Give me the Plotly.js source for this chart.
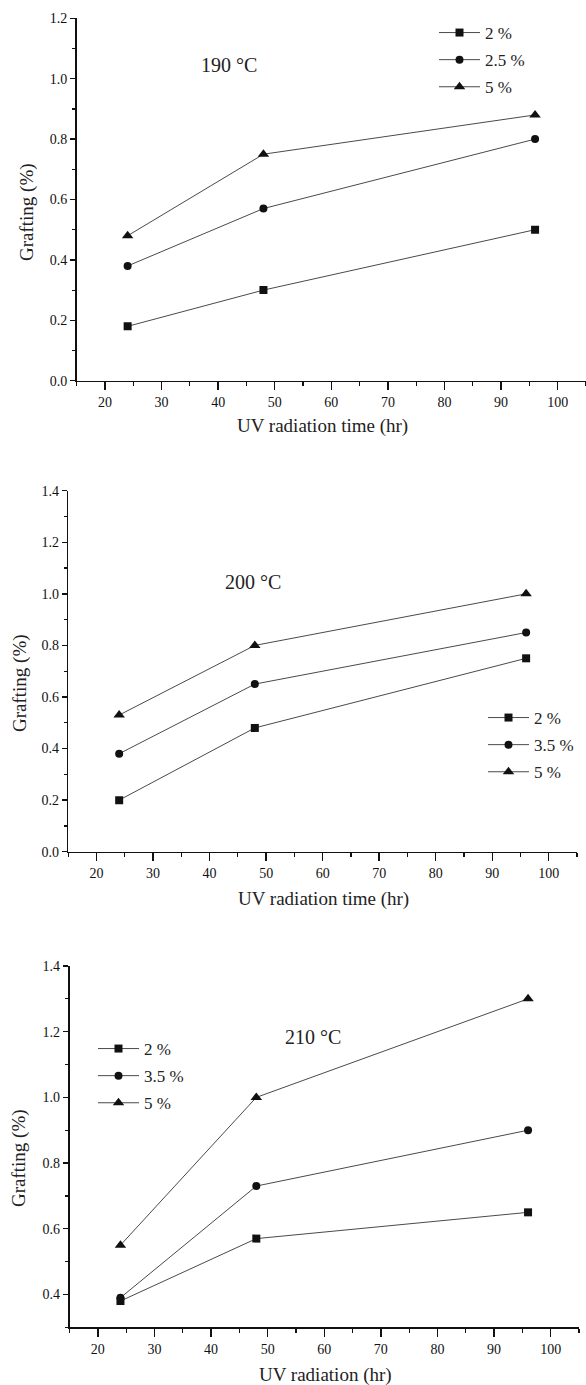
<!DOCTYPE html>
<html>
<head>
<meta charset="utf-8">
<script src="https://cdn.plot.ly/plotly-3.0.1.min.js"></script>
<style>html,body{margin:0;padding:0;background:#fff;}#chart{width:586px;height:1385px;}</style>
</head>
<body>
<div id="chart"></div>
<script>
// ---- data ----
const hours = [24, 48, 96];

const panel1Title = "190 °C";
const panel1Names = ["2 %", "2.5 %", "5 %"];
const panel1_2 = [0.18, 0.30, 0.50];
const panel1_25 = [0.38, 0.57, 0.80];
const panel1_5 = [0.48, 0.75, 0.88];

const panel2Title = "200 °C";
const panel2Names = ["2 %", "3.5 %", "5 %"];
const panel2_2 = [0.20, 0.48, 0.75];
const panel2_35 = [0.38, 0.65, 0.85];
const panel2_5 = [0.53, 0.80, 1.00];

const panel3Title = "210 °C";
const panel3Names = ["2 %", "3.5 %", "5 %"];
const panel3_2 = [0.38, 0.57, 0.65];
const panel3_35 = [0.39, 0.73, 0.90];
const panel3_5 = [0.55, 1.00, 1.30];

const xTitle12 = "UV radiation time (hr)";
const xTitle3 = "UV radiation (hr)";
const yTitle = "Grafting (%)";

// ---- styling ----
const W = 586, H = 1385;
const px = v => v / W;
const py = v => 1 - v / H;
const FONT = "Liberation Serif, Times New Roman, serif";
const symbols = ["square", "circle", "triangle-up"];
const sizes = [8, 8, 10];

function mk(xs, ys, name, i, xa, ya, leg) {
  return {
    x: xs, y: ys, name: name, type: "scatter", mode: "lines+markers",
    xaxis: xa, yaxis: ya, legend: leg, legendgroup: leg + "_" + i,
    line: {color: "#4a4a4a", width: 1},
    marker: {symbol: symbols[i], size: sizes[i], color: "#111"}
  };
}

const data = [
  mk(hours, panel1_2, panel1Names[0], 0, "x", "y", "legend"),
  mk(hours, panel1_25, panel1Names[1], 1, "x", "y", "legend"),
  mk(hours, panel1_5, panel1Names[2], 2, "x", "y", "legend"),
  mk(hours, panel2_2, panel2Names[0], 0, "x2", "y2", "legend2"),
  mk(hours, panel2_35, panel2Names[1], 1, "x2", "y2", "legend2"),
  mk(hours, panel2_5, panel2Names[2], 2, "x2", "y2", "legend2"),
  mk(hours, panel3_2, panel3Names[0], 0, "x3", "y3", "legend3"),
  mk(hours, panel3_35, panel3Names[1], 1, "x3", "y3", "legend3"),
  mk(hours, panel3_5, panel3Names[2], 2, "x3", "y3", "legend3")
];

function xax(d0, d1, anchor) {
  return {
    domain: [d0, d1], anchor: anchor, range: [15, 105], tick0: 0, dtick: 10,
    showline: true, linecolor: "#111", linewidth: 1.6, mirror: false,
    ticks: "outside", ticklen: 8, tickwidth: 1.4, tickcolor: "#111",
    minor: {dtick: 5, ticks: "outside", ticklen: 4, tickwidth: 1.2, tickcolor: "#111", showgrid: false},
    showgrid: false, zeroline: false, fixedrange: true,
    tickfont: {family: FONT, size: 14, color: "#111"}
  };
}
function yax(d0, d1, anchor, r) {
  return {
    domain: [d0, d1], anchor: anchor, range: r, tick0: 0, dtick: 0.2, tickformat: ".1f",
    showline: true, linecolor: "#111", linewidth: 1.6, mirror: false,
    ticks: "outside", ticklen: 5, tickwidth: 1.4, tickcolor: "#111",
    minor: {dtick: 0.1, ticks: "outside", ticklen: 3, tickwidth: 1.2, tickcolor: "#111", showgrid: false},
    showgrid: false, zeroline: false, fixedrange: true,
    tickfont: {family: FONT, size: 14, color: "#111"}
  };
}
function leg(xp, yp) {
  return {
    x: px(xp), y: py(yp), xanchor: "left", yanchor: "top",
    bgcolor: "rgba(0,0,0,0)", borderwidth: 0,
    font: {family: FONT, size: 17, color: "#222"},
    itemwidth: 41, tracegroupgap: 2
  };
}
function ann(text, xp, yp, size, angle) {
  return {
    text: text, xref: "paper", yref: "paper", x: px(xp), y: py(yp),
    xanchor: "center", yanchor: "middle", showarrow: false, textangle: angle || 0,
    font: {family: FONT, size: size, color: "#222"}
  };
}

const layout = {
  width: W, height: H,
  margin: {l: 0, r: 0, t: 0, b: 0},
  paper_bgcolor: "#fff", plot_bgcolor: "#fff",
  showlegend: true,
  xaxis: xax(px(76.7), 1, "y"),
  yaxis: yax(py(380.7), py(18.3), "x", [0, 1.2]),
  xaxis2: xax(px(68.3), px(577), "y2"),
  yaxis2: yax(py(851.7), py(490.7), "x2", [0, 1.4]),
  xaxis3: xax(px(69.5), px(579), "y3"),
  yaxis3: yax(py(1327.3), py(966), "x3", [0.3, 1.4]),
  legend: leg(434, 15),
  legend2: leg(483, 700),
  legend3: leg(93, 1031),
  annotations: [
    ann(panel1Title, 229, 65, 20),
    ann(panel2Title, 253, 582, 20),
    ann(panel3Title, 313, 1037, 20),
    ann(xTitle12, 322, 426, 19),
    ann(xTitle12, 323, 899, 19),
    ann(xTitle3, 325, 1375, 19),
    ann(yTitle, 27, 212, 19, -90),
    ann(yTitle, 20, 683, 19, -90),
    ann(yTitle, 19, 1158, 19, -90)
  ]
};

Plotly.newPlot("chart", data, layout, {staticPlot: true, displayModeBar: false});
</script>
</body>
</html>
